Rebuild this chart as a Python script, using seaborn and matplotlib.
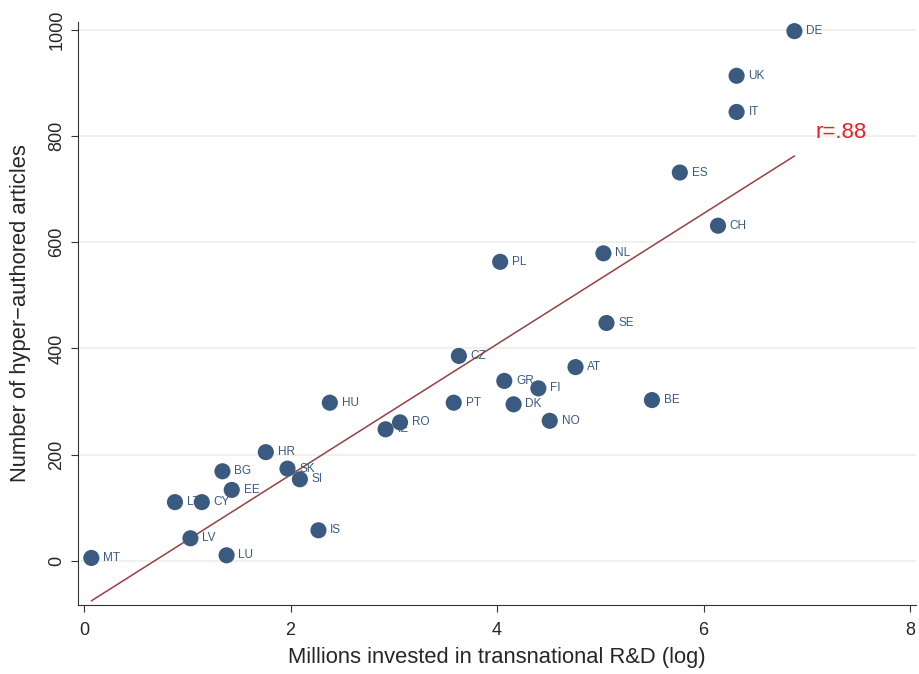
import pandas as pd
import numpy as np
import matplotlib
matplotlib.use('Agg')
import matplotlib.pyplot as plt
import seaborn as sns

# Data
countries = ['DE', 'UK', 'IT', 'ES', 'CH', 'NL', 'PL', 'SE', 'CZ', 'AT',
             'GR', 'FI', 'BE', 'PT', 'DK', 'HU', 'RO', 'NO', 'IE', 'HR',
             'BG', 'SK', 'SI', 'EE', 'LT', 'CY', 'LV', 'LU', 'IS', 'MT']
rd_log = [6.88, 6.32, 6.32, 5.77, 6.14, 5.03, 4.03, 5.06, 3.63, 4.76,
          4.07, 4.40, 5.50, 3.58, 4.16, 2.38, 3.06, 4.51, 2.92, 1.76,
          1.34, 1.97, 2.09, 1.43, 0.88, 1.14, 1.03, 1.38, 2.27, 0.07]
articles = [997, 913, 845, 731, 631, 579, 563, 448, 386, 365,
            339, 325, 303, 298, 295, 298, 261, 264, 248, 205,
            169, 174, 154, 134, 111, 111, 43, 11, 58, 6]
r_label = 'r=.88'

df = pd.DataFrame({'country': countries, 'rd': rd_log, 'articles': articles})

sns.set_theme(style='white')
plt.rcParams['font.family'] = ['Liberation Sans', 'DejaVu Sans']

navy = '#3a5a80'
maroon = '#9a3f42'

fig = plt.figure(figsize=(9.19, 6.74), dpi=100)
ax = fig.add_axes([0.085, 0.102, 0.912, 0.866])

# horizontal grid lines
for yv in [0, 200, 400, 600, 800, 1000]:
    ax.axhline(yv, color='#eeeeee', lw=1.2, zorder=0)

sns.regplot(data=df, x='rd', y='articles', scatter=False, ci=None, truncate=True,
            line_kws={'color': maroon, 'lw': 1.1}, ax=ax)
sns.scatterplot(data=df, x='rd', y='articles', s=135, color=navy,
                edgecolor='none', zorder=3, ax=ax)

for _, row in df.iterrows():
    ax.annotate(row['country'], (row['rd'], row['articles']),
                xytext=(8.5, 0), textcoords='offset points',
                va='center', ha='left', fontsize=8.5, color=navy)

ax.text(7.08, 807, r_label, color='#e8202a', fontsize=16, va='center', ha='left')

ax.set_xlim(-0.058, 8.06)
ax.set_ylim(-83, 1015)
ax.set_xticks([0, 2, 4, 6, 8])
ax.set_yticks([0, 200, 400, 600, 800, 1000])
ax.set_yticklabels(['0', '200', '400', '600', '800', '1000'], rotation=90, va='center')
ax.tick_params(axis='both', direction='out', length=5, width=0.8, color='#333333',
               labelsize=13, bottom=True, left=True)
ax.tick_params(axis='x', pad=7)
ax.tick_params(axis='y', pad=4)
ax.set_xlabel('Millions invested in transnational R&D (log)', fontsize=15.8, labelpad=6)
ax.set_ylabel('Number of hyper\u2212authored articles', fontsize=15.8, labelpad=13)

sns.despine(ax=ax)
for sp in ['left', 'bottom']:
    ax.spines[sp].set_color('#333333')
    ax.spines[sp].set_linewidth(0.8)

fig.savefig('out.png', dpi=100, facecolor='white')
